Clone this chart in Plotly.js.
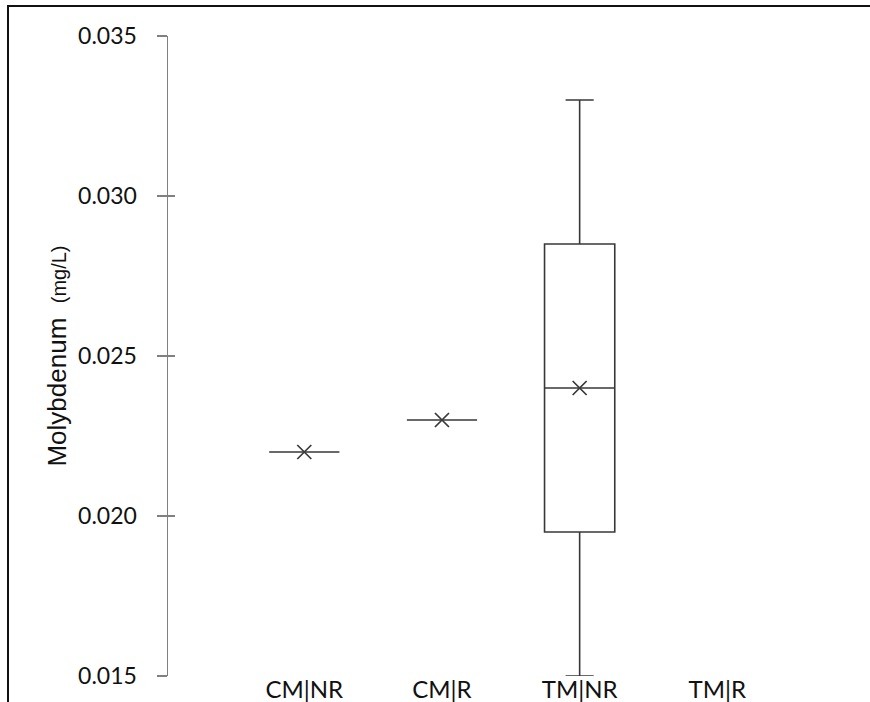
<!DOCTYPE html>
<html>
<head>
<meta charset="utf-8">
<script src="https://cdn.plot.ly/plotly-3.0.1.min.js"></script>
<style>
  html, body { margin: 0; padding: 0; background: #fff; }
  #wrap { position: relative; width: 870px; height: 702px; overflow: hidden; }
  #chart { width: 870px; height: 702px; }
  #frame { position: absolute; left: 7px; top: 5px; right: -10px; bottom: -10px;
           border-left: 2px solid #111; border-top: 2px solid #111; pointer-events: none; }
</style>
</head>
<body>
<div id="wrap">
  <div id="chart"></div>
  <div id="frame"></div>
</div>
<script>
// Data
const categories = ['CM|NR', 'CM|R', 'TM|NR', 'TM|R'];
const boxCategories = ['CM|NR', 'CM|R', 'TM|NR'];
const q1Values = [0.022, 0.023, 0.0195];
const medianValues = [0.022, 0.023, 0.0240];
const q3Values = [0.022, 0.023, 0.0285];
const lowerFenceValues = [0.022, 0.023, 0.015];
const upperFenceValues = [0.022, 0.023, 0.033];
const meanValues = [0.022, 0.023, 0.0240];
const yTickValues = [0.015, 0.020, 0.025, 0.030, 0.035];
const yTickLabels = ['0.015', '0.020', '0.025', '0.030', '0.035'];

const lineColor = '#383838';
const axisColor = '#808080';

const boxTrace = {
  type: 'box',
  x: boxCategories,
  q1: q1Values,
  median: medianValues,
  q3: q3Values,
  lowerfence: lowerFenceValues,
  upperfence: upperFenceValues,
  width: 0.51,
  whiskerwidth: 0.4,
  line: { color: lineColor, width: 1.6 },
  fillcolor: 'rgba(255,255,255,0)',
  boxpoints: false,
  hoverinfo: 'skip',
  showlegend: false
};

const meanTrace = {
  type: 'scatter',
  mode: 'markers',
  x: boxCategories,
  y: meanValues,
  yaxis: 'y2',
  marker: { symbol: 'x-thin', size: 14, line: { color: lineColor, width: 1.7 }, color: lineColor },
  hoverinfo: 'skip',
  showlegend: false
};

const layout = {
  width: 870,
  height: 702,
  margin: { l: 168, r: 15, t: 36, b: 26 },
  paper_bgcolor: '#ffffff',
  plot_bgcolor: '#ffffff',
  showlegend: false,
  xaxis: {
    type: 'category',
    categoryorder: 'array',
    categoryarray: categories,
    range: [-0.99, 4],
    showgrid: false,
    zeroline: false,
    showline: false,
    ticks: '',
    ticklabelstandoff: -3,
    tickfont: { family: 'Lato, "Open Sans", sans-serif', size: 24, color: '#111' },
    fixedrange: true
  },
  yaxis: {
    range: [0.015, 0.035],
    tickvals: yTickValues,
    ticktext: yTickLabels,
    showgrid: false,
    zeroline: false,
    showline: true,
    linecolor: axisColor,
    linewidth: 1.5,
    ticks: 'outside',
    ticklen: 10,
    tickwidth: 1.5,
    tickcolor: axisColor,
    ticklabelstandoff: 15,
    tickfont: { family: 'Lato, "Open Sans", sans-serif', size: 23, color: '#111' },
    title: {
      text: 'Molybdenum&nbsp; <span style="font-size:20px">(mg/L)</span>',
      font: { family: '"Liberation Sans", Arial, sans-serif', size: 26, color: '#111' },
      standoff: 4
    },
    fixedrange: true
  },
  yaxis2: {
    overlaying: 'y',
    side: 'left',
    anchor: 'x',
    range: [0.015, 0.035],
    tickvals: yTickValues,
    showticklabels: false,
    showgrid: false,
    zeroline: false,
    showline: false,
    ticks: 'inside',
    ticklen: 7,
    tickwidth: 1.5,
    tickcolor: axisColor,
    fixedrange: true
  }
};

Plotly.newPlot('chart', [boxTrace, meanTrace], layout, { displayModeBar: false, staticPlot: true });
</script>
</body>
</html>
